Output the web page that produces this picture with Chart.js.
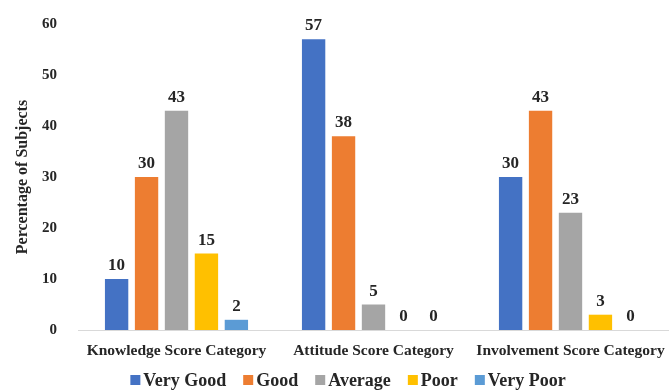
<!DOCTYPE html>
<html><head><meta charset="utf-8">
<script src="https://cdn.jsdelivr.net/npm/chart.js@4"></script>
<style>html,body{margin:0;padding:0;background:#fff}#wrap{width:669px;height:390px}</style>
</head><body><div id="wrap"><canvas id="c" width="669" height="390"></canvas></div>
<script>
const categories = ["Knowledge Score Category", "Attitude Score Category", "Involvement Score Category"];
const veryGood = [10, 57, 30];
const good = [30, 38, 43];
const average = [43, 5, 23];
const poor = [15, 0, 3];
const veryPoor = [2, 0, 0];
const seriesNames = ["Very Good", "Good", "Average", "Poor", "Very Poor"];
const seriesColors = ["#4472C4", "#ED7D31", "#A5A5A5", "#FFC000", "#5B9BD5"];
const yTicks = [0, 10, 20, 30, 40, 50, 60];

const FONT = "'Liberation Serif', 'Times New Roman', serif";
const TEXT = "#262626";
const series = [veryGood, good, average, poor, veryPoor];

const labelPlugin = {
  id: 'valLabels',
  afterDatasetsDraw(chart) {
    const ctx = chart.ctx;
    ctx.save();
    ctx.font = "bold 17px " + FONT;
    ctx.fillStyle = TEXT;
    ctx.textAlign = "center";
    ctx.textBaseline = "alphabetic";
    chart.data.datasets.forEach((ds, i) => {
      const meta = chart.getDatasetMeta(i);
      meta.data.forEach((bar, j) => {
        ctx.fillText(String(ds.data[j]), bar.x, bar.y - 9);
      });
    });
    ctx.restore();
  }
};

const legendPlugin = {
  id: 'customLegend',
  afterDraw(chart) {
    const ctx = chart.ctx;
    ctx.save();
    ctx.font = "bold 18px " + FONT;
    ctx.textBaseline = "middle";
    ctx.textAlign = "left";
    const box = 10, gapText = 3, gapItem = 17;
    const items = chart.data.datasets.map(ds => ({ text: ds.label, color: ds.backgroundColor, w: ctx.measureText(ds.label).width }));
    let total = 0;
    items.forEach((it, k) => { total += box + gapText + it.w + (k ? gapItem : 0); });
    let x = 348 - total / 2;
    const y = 380;
    items.forEach(it => {
      ctx.fillStyle = it.color;
      ctx.fillRect(x, y - 5, box, box);
      ctx.fillStyle = TEXT;
      ctx.fillText(it.text, x + box + gapText, y + 1);
      x += box + gapText + it.w + gapItem;
    });
    ctx.restore();
  }
};

new Chart(document.getElementById('c'), {
  type: 'bar',
  data: {
    labels: categories,
    datasets: series.map((d, i) => ({
      label: seriesNames[i],
      data: d,
      backgroundColor: seriesColors[i],
      borderWidth: 0,
      categoryPercentage: 0.76,
      barPercentage: 0.78
    }))
  },
  options: {
    responsive: false,
    animation: false,
    layout: { padding: { top: 24, right: 0, left: 0, bottom: 0 } },
    plugins: {
      legend: { display: false },
      tooltip: { enabled: false }
    },
    scales: {
      x: {
        afterFit(scale) { scale.height = 60; scale.paddingLeft = 0; scale.paddingRight = 0; },
        grid: { display: false },
        border: { display: true, color: '#D9D9D9', width: 1 },
        ticks: { color: TEXT, font: { family: FONT, size: 15.5, weight: 'bold' }, padding: 4, maxRotation: 0, autoSkip: false }
      },
      y: {
        min: 0, max: 60,
        afterFit(scale) { scale.width = 78; },
        afterBuildTicks(scale) { scale.ticks = yTicks.map(v => ({ value: v })); },
        grid: { display: false },
        border: { display: false },
        ticks: { color: TEXT, font: { family: FONT, size: 15, weight: 'bold' }, padding: 13 },
        title: { display: true, text: 'Percentage of Subjects', color: TEXT, font: { family: FONT, size: 16, weight: 'bold' }, padding: { top: 13, bottom: 16 } }
      }
    }
  },
  plugins: [labelPlugin, legendPlugin]
});
</script>
</body></html>
